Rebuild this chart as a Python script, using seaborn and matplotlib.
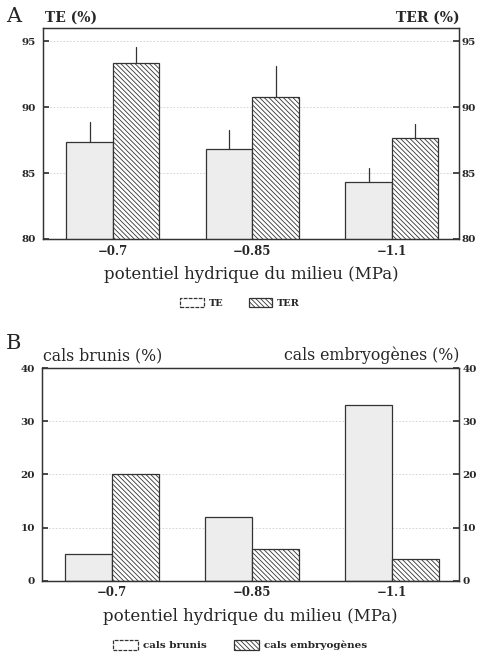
import matplotlib

matplotlib.use("Agg")

import matplotlib.pyplot as plt
import pandas as pd
import seaborn as sns
from matplotlib.patches import Patch


POTENTIALS = ["\u22120.7", "\u22120.85", "\u22121.1"]

# panel A : taux (%) et haut des barres d'erreur
TE_VALUES = [87.4, 86.8, 84.3]
TE_ERR_TOP = [88.85, 88.3, 85.4]
TER_VALUES = [93.4, 90.8, 87.7]
TER_ERR_TOP = [94.6, 93.15, 88.75]

# panel B
BRUNIS_VALUES = [5, 12, 33]
EMBRYO_VALUES = [20, 6, 4]

SERIF = ["DejaVu Serif", "Liberation Serif"]
EDGE = "#333333"
STIPPLE = "#ededed"
HATCH = "\\\\\\\\\\\\\\"


def configure_style():
    sns.set_theme(style="white")
    plt.rcParams.update(
        {
            "font.family": SERIF,
            "hatch.linewidth": 0.6,
            "hatch.color": EDGE,
            "axes.edgecolor": EDGE,
            "axes.linewidth": 0.9,
        }
    )


def style_axes(ax, ymin, ymax, ticks):
    ax.set_ylim(ymin, ymax)
    ax.set_yticks(ticks)
    ax.set_xlim(-0.5, 2.48)
    ax.grid(axis="y", linestyle=(0, (2, 2)), linewidth=0.6, color="#cfcfcf")
    ax.set_axisbelow(True)
    ax.tick_params(axis="y", direction="in", length=4, labelsize=7.5, pad=5, color=EDGE)
    ax.tick_params(axis="x", length=0, labelsize=8.5, pad=4)
    for lab in ax.get_yticklabels() + ax.get_xticklabels():
        lab.set_fontweight("bold")
    for side in ["top", "right", "left", "bottom"]:
        ax.spines[side].set_visible(True)
        ax.spines[side].set_color(EDGE)

    right = ax.twinx()
    right.set_ylim(ymin, ymax)
    right.set_yticks(ticks)
    right.tick_params(axis="y", direction="in", length=4, labelsize=7.5, pad=2, color=EDGE)
    for lab in right.get_yticklabels():
        lab.set_fontweight("bold")
    right.grid(False)
    return right


def draw_panel(ax, first, second, names):
    df = pd.DataFrame(
        {
            "potentiel": POTENTIALS * 2,
            "valeur": list(first) + list(second),
            "serie": [names[0]] * 3 + [names[1]] * 3,
        }
    )
    sns.barplot(
        data=df,
        x="potentiel",
        y="valeur",
        hue="serie",
        hue_order=names,
        order=POTENTIALS,
        width=0.667,
        palette=[STIPPLE, "white"],
        edgecolor=EDGE,
        linewidth=0.9,
        legend=False,
        ax=ax,
    )
    for bar in ax.containers[1]:
        bar.set_hatch(HATCH)
    ax.set_xlabel("potentiel hydrique du milieu (MPa)", fontsize=12, labelpad=6)
    ax.set_ylabel("")
    return ax.containers


def add_errors(ax, container, tops):
    for bar, top in zip(container, tops):
        x = bar.get_x() + bar.get_width() / 2
        h = bar.get_height()
        ax.plot([x, x], [h, top], color=EDGE, linewidth=0.9, zorder=4)


def legend_handles(names):
    return [
        Patch(facecolor="white", edgecolor=EDGE, linewidth=0.9, linestyle=(0, (3, 1)), label=names[0]),
        Patch(facecolor="white", edgecolor=EDGE, linewidth=0.9, hatch=HATCH, label=names[1]),
    ]


def add_legend(fig, names, y, size):
    fig.legend(
        handles=legend_handles(names),
        loc="center",
        bbox_to_anchor=(0.5, y),
        ncol=2,
        frameon=False,
        prop={"size": size, "weight": "bold", "family": SERIF},
        handlelength=2.4,
        handleheight=1.1,
        columnspacing=2.6,
        handletextpad=0.5,
    )


def main():
    configure_style()
    fig = plt.figure(figsize=(4.8, 6.56), dpi=100)

    ax_a = fig.add_axes([0.0896, 0.6357, 0.8664, 0.3212])
    containers = draw_panel(ax_a, TE_VALUES, TER_VALUES, ["TE", "TER"])
    add_errors(ax_a, containers[0], TE_ERR_TOP)
    add_errors(ax_a, containers[1], TER_ERR_TOP)
    style_axes(ax_a, 80, 96, [80, 85, 90, 95])
    fig.text(0.012, 0.975, "A", fontsize=15, va="center", ha="left")
    fig.text(0.094, 0.973, "TE (%)", fontsize=10, fontweight="bold", va="center")
    fig.text(0.958, 0.973, "TER (%)", fontsize=10, fontweight="bold", va="center", ha="right")
    add_legend(fig, ["TE", "TER"], 0.538, 7)

    ax_b = fig.add_axes([0.0869, 0.1148, 0.8701, 0.3238])
    draw_panel(ax_b, BRUNIS_VALUES, EMBRYO_VALUES, ["cals brunis", "cals embryogènes"])
    style_axes(ax_b, 0, 40, [0, 10, 20, 30, 40])
    fig.text(0.012, 0.477, "B", fontsize=15, va="center", ha="left")
    fig.text(0.09, 0.458, "cals brunis (%)", fontsize=11.3, va="center")
    fig.text(0.958, 0.458, "cals embryogènes (%)", fontsize=11.3, va="center", ha="right")
    add_legend(fig, ["cals brunis", "cals embryogènes"], 0.017, 7.5)

    fig.savefig("out.png", dpi=100, facecolor="white")
    plt.close(fig)


if __name__ == "__main__":
    main()
